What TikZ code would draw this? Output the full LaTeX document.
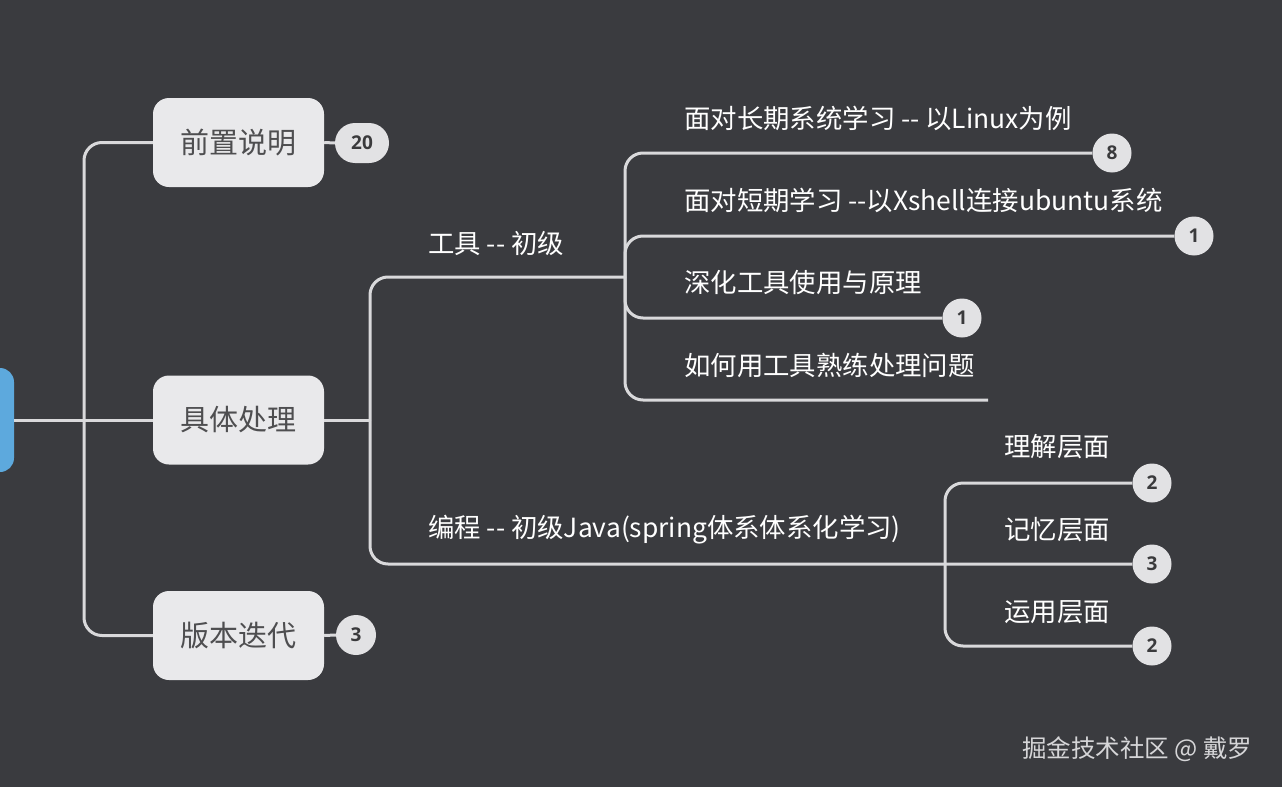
\documentclass[tikz,border=0pt]{standalone}
\usepackage{fontspec}
\newfontfamily\cjk{Noto Sans CJK SC}
\newfontfamily\badgefont{Open Sans}
\usepackage{xcolor}
\usetikzlibrary{positioning}
\definecolor{bgdark}{HTML}{3A3B3F}
\definecolor{boxgray}{HTML}{E9E9EB}
\definecolor{boxtext}{HTML}{4E4E50}
\definecolor{linegray}{HTML}{D9D9DB}
\definecolor{badgegray}{HTML}{E2E2E4}
\definecolor{badgetext}{HTML}{3A3A3C}
\definecolor{rootblue}{HTML}{5DA9DD}
\definecolor{wmgray}{HTML}{D6D6D8}

\begin{document}
\begin{tikzpicture}[x=1pt, y=-1pt,
	topic/.style={fill=boxgray, rounded corners=16pt, minimum width=171pt, minimum height=89pt,
		inner sep=0pt, text=boxtext, font=\cjk\fontsize{29}{32}\selectfont},
	leaf/.style={anchor=west, inner sep=0pt, text=white, font=\cjk\fontsize{26.4}{30}\selectfont},
	badge/.style={circle, fill=badgegray, minimum size=39pt, inner sep=0pt, text=badgetext,
		font=\badgefont\bfseries\fontsize{19}{21}\selectfont},
	conn/.style={line width=3pt, draw=linegray, rounded corners=18pt}
]
	\fill[bgdark] (0,0) rectangle (1282,787);
	\useasboundingbox (0,0) rectangle (1282,787);
	\clip (0,0) rectangle (1282,787);

	% root and main topics
	\node[fill=rootblue, rounded corners=14pt, minimum width=60pt, minimum height=104pt] (root) at (-16,420) {};
	\node[topic] (pre) at (238.5,142.5) {前置说明};
	\node[topic] (work) at (238.5,420) {具体处理};
	\node[topic] (ver) at (238.5,635.5) {版本迭代};
	\node[badge, rounded corners=20pt, rectangle, minimum width=54pt, minimum height=40pt] (b20) at (362,143) {20};
	\node[badge, minimum size=40pt] (b3v) at (356,635) {3};
	\coordinate (j0) at (84,420);
	\draw[conn] (root.east) -- (work.west);
	\draw[conn] (j0) |- (pre.west);
	\draw[conn] (j0) |- (ver.west);
	\draw[conn] (pre.east) -- (b20.west);
	\draw[conn] (ver.east) -- (b3v.west);

	% 具体处理
	\coordinate (j1) at (370,420);
	\coordinate (jt) at (625,277);
	\coordinate (jp) at (945,564);
	\node[leaf] (tool) at (428,243) {工具 -- 初级};
	\node[leaf] (prog) at (428,530) {编程 -- 初级Java(spring体系体系化学习)};
	\draw[conn] (work.east) -- (j1);
	\draw[conn] (j1) |- (jt);

	% tool branch
	\node[leaf] (long) at (684,118) {面对长期系统学习 -- 以Linux为例};
	\node[leaf] (short) at (684,200) {面对短期学习 --以Xshell连接ubuntu系统};
	\node[leaf] (deep) at (684,283) {深化工具使用与原理};
	\node[leaf] (use) at (684,365) {如何用工具熟练处理问题};
	\node[badge] (b8) at (1112,153) {8};
	\node[badge] (b1a) at (1194,236) {1};
	\node[badge] (b1b) at (962,318) {1};
	\coordinate (euse) at (988,400);
	\draw[conn] (jt) |- (b8.west);
	\draw[conn] (jt) |- (b1a.west);
	\draw[conn] (jt) |- (b1b.west);
	\draw[conn] (jt) |- (euse);

	% programming branch
	\node[leaf] (know) at (1004,447) {理解层面};
	\node[leaf] (mem) at (1004,530) {记忆层面};
	\node[leaf] (app) at (1004,612) {运用层面};
	\node[badge] (b2a) at (1152,483) {2};
	\node[badge] (b3m) at (1152,564) {3};
	\node[badge] (b2b) at (1152,646) {2};
	\draw[conn] (j1) |- (b3m.west);
	\draw[conn] (jp) |- (b2a.west);
	\draw[conn] (jp) |- (b2b.west);

	\node[anchor=west, inner sep=0pt, text=wmgray, font=\cjk\fontsize{24.5}{27}\selectfont] (mark) at (1022,749) {掘金技术社区 @ 戴罗};
\end{tikzpicture}
\end{document}
